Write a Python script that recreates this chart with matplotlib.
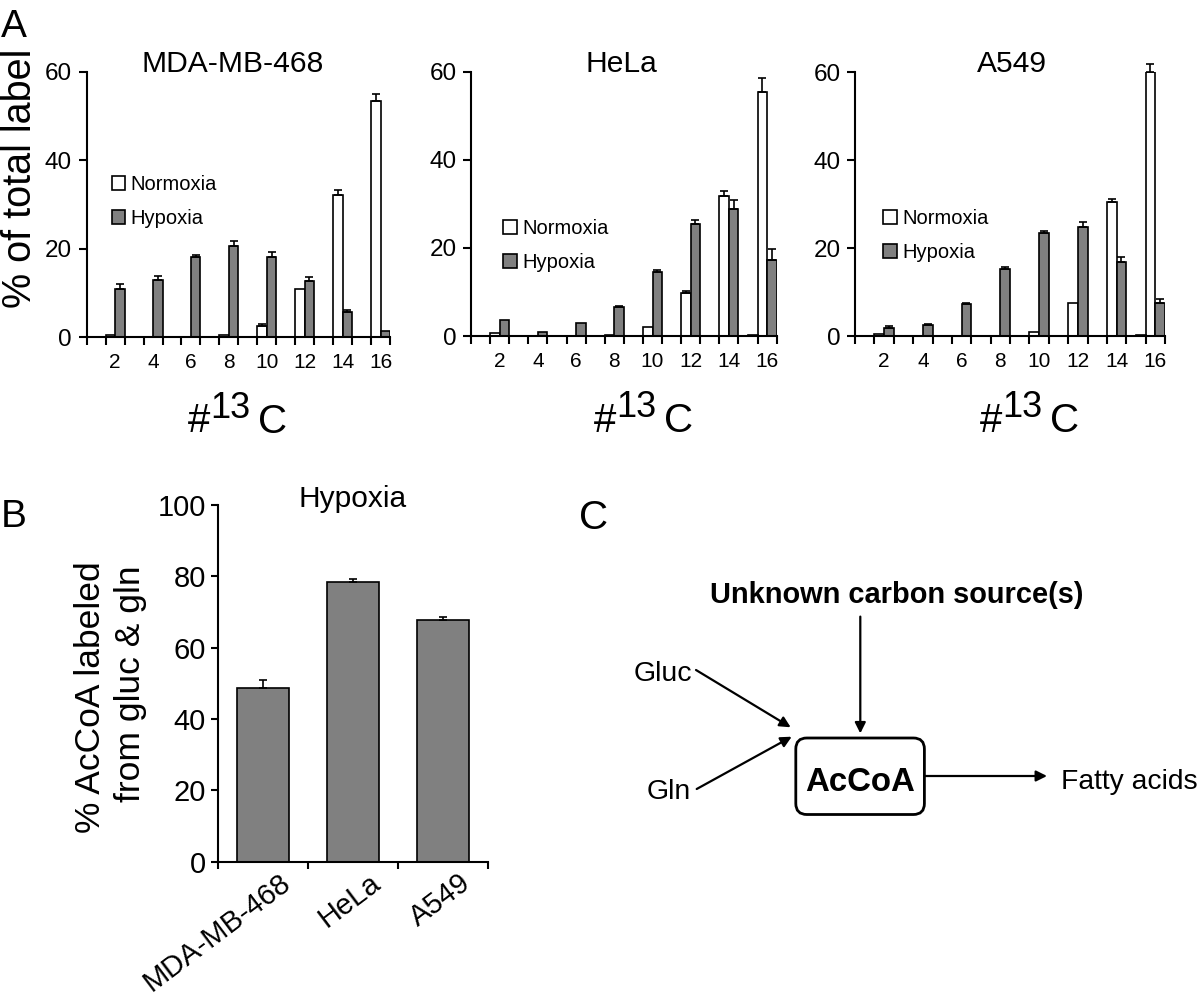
import numpy as np
import matplotlib
matplotlib.use('Agg')
import matplotlib.pyplot as plt
from matplotlib import font_manager as fm
from matplotlib.patches import FancyBboxPatch

avail = {f.name for f in fm.fontManager.ttflist}
BASE = 'Liberation Sans' if 'Liberation Sans' in avail else 'DejaVu Sans'
NARROW = 'Liberation Sans Narrow' if 'Liberation Sans Narrow' in avail else BASE
NSCALE = 1.0 if NARROW != BASE else 0.82
plt.rcParams['font.family'] = [BASE, 'DejaVu Sans']

# ---------------- data ----------------
n_carbons = list(range(1, 17))
tick_labels_A = ['2', '4', '6', '8', '10', '12', '14', '16']
cell_lines = ['MDA-MB-468', 'HeLa', 'A549']
series_labels = ['Normoxia', 'Hypoxia']

mda_norm = [0, 0.5, 0, 0, 0, 0, 0, 0.4, 0, 2.6, 0, 10.8, 0, 32.1, 0, 53.5]
mda_norm_err = [0, 0, 0, 0, 0, 0, 0, 0, 0, 0.4, 0, 0, 0, 1.1, 0, 1.5]
mda_hyp = [0, 10.9, 0, 13.0, 0, 18.1, 0, 20.6, 0, 18.1, 0, 12.6, 0, 5.6, 0, 1.3]
mda_hyp_err = [0, 1.1, 0, 0.9, 0, 0.4, 0, 1.1, 0, 1.1, 0, 1.0, 0, 0.6, 0, 0]

hela_norm = [0, 0.6, 0, 0, 0, 0, 0, 0.3, 0, 2.0, 0, 9.7, 0, 31.8, 0, 55.5]
hela_norm_err = [0, 0, 0, 0, 0, 0, 0, 0, 0, 0, 0, 0.5, 0, 1.2, 0, 3.0]
hela_hyp = [0, 3.6, 0, 0.9, 0, 2.9, 0, 6.6, 0, 14.6, 0, 25.4, 0, 28.8, 0.3, 17.3]
hela_hyp_err = [0, 0, 0, 0, 0, 0, 0, 0.3, 0, 0.4, 0, 0.9, 0, 2.1, 0, 2.4]

a549_norm = [0, 0.4, 0, 0, 0, 0, 0, 0, 0, 1.0, 0, 7.5, 0, 30.4, 0, 60.0]
a549_norm_err = [0, 0, 0, 0, 0, 0, 0, 0, 0, 0, 0, 0, 0, 0.7, 0, 2.0]
a549_hyp = [0, 1.9, 0, 2.4, 0, 7.2, 0, 15.2, 0, 23.4, 0, 24.9, 0, 16.8, 0.2, 7.6]
a549_hyp_err = [0, 0.3, 0, 0.4, 0, 0.2, 0, 0.4, 0, 0.4, 0, 1.1, 0, 1.2, 0, 0.8]

hyp_total = [48.8, 78.5, 67.8]
hyp_total_err = [2.0, 0.8, 0.8]

# ---------------- layout ----------------
W, H = 1200, 997
fig = plt.figure(figsize=(W / 100, H / 100), dpi=100)


def fx(px):
    return px / W


def fy(py):
    return 1 - py / H


def add_ax(l, r, t, b):
    return fig.add_axes([fx(l), fy(b), fx(r) - fx(l), fy(t) - fy(b)])


SPINE_LW = 1.5
EDGE_LW = 1.2
GRAY = '#808080'

panelA = [
    dict(box=(86.7, 390.0, 72.0, 337.0), norm=mda_norm, nerr=mda_norm_err,
         hyp=mda_hyp, herr=mda_hyp_err, leg=(0.082, 0.61), xl_dx=0, t_dx=-6),
    dict(box=(471.0, 776.7, 71.7, 336.0), norm=hela_norm, nerr=hela_norm_err,
         hyp=hela_hyp, herr=hela_hyp_err, leg=(0.106, 0.444), xl_dx=20.5, t_dx=-2),
    dict(box=(855.0, 1165.0, 72.3, 336.0), norm=a549_norm, nerr=a549_norm_err,
         hyp=a549_hyp, herr=a549_hyp_err, leg=(0.091, 0.4825), xl_dx=20.5, t_dx=2),
]

x_cat = np.array(n_carbons, dtype=float) - 0.5
even_pos = [x_cat[n - 1] for n in n_carbons if n % 2 == 0]


def err_bars(ax, x, y, e):
    x = np.asarray(x); y = np.asarray(y, float); e = np.asarray(e, float)
    m = e > 0
    ax.errorbar(x[m], y[m], yerr=[np.zeros(m.sum()), e[m]], fmt='none',
                ecolor='black', elinewidth=EDGE_LW, capsize=2.8,
                capthick=EDGE_LW, clip_on=False, zorder=3)


for name, p in zip(cell_lines, panelA):
    ax = add_ax(*p['box'])
    bn = ax.bar(x_cat - 0.25, p['norm'], width=0.5, color='white',
                edgecolor='black', linewidth=EDGE_LW, label=series_labels[0], zorder=2)
    bh = ax.bar(x_cat + 0.25, p['hyp'], width=0.5, color=GRAY,
                edgecolor='black', linewidth=EDGE_LW, label=series_labels[1], zorder=2)
    err_bars(ax, x_cat - 0.25, p['norm'], p['nerr'])
    err_bars(ax, x_cat + 0.25, p['hyp'], p['herr'])
    ax.set_xlim(0, 16)
    ax.set_ylim(0, 60)
    ax.set_yticks([0, 20, 40, 60])
    ax.set_xticks(np.arange(0, 17))
    ax.set_xticklabels([])
    ax.set_xticks(even_pos, labels=tick_labels_A, minor=True)
    ax.tick_params(which='major', direction='out', length=5.5, width=SPINE_LW,
                   labelsize=17.5, pad=5)
    ax.tick_params(axis='x', which='minor', length=0, pad=11.5, labelsize=15)
    for s in ['top', 'right']:
        ax.spines[s].set_visible(False)
    for s in ['left', 'bottom']:
        ax.spines[s].set_linewidth(SPINE_LW)
    ax.patch.set_visible(False)
    ax.legend(handles=[bn, bh], loc='upper left', bbox_to_anchor=p['leg'],
              frameon=False, fontsize=14.5, handlelength=0.68, handleheight=0.68,
              handletextpad=0.25, labelspacing=0.75, borderpad=0, borderaxespad=0)
    ax.annotate(name, xy=(0.5, 1), xycoords='axes fraction', xytext=(p['t_dx'], 0),
                textcoords='offset pixels', ha='center', va='baseline', fontsize=21.6)
    for s, ddx, ddy, fs in [('#', -39.4, -95.5, 29), ('13', -7.9, -81, 26),
                            ('C', 34.2, -96, 29)]:
        ax.annotate(s, xy=(0.5, 0), xycoords='axes fraction',
                    xytext=(ddx + p['xl_dx'], ddy), textcoords='offset pixels',
                    ha='center', va='baseline', fontsize=fs)

fig.text(fx(20.3), fy(178), '% of total label', rotation=90, ha='center',
         va='center', fontsize=28.5)

# ---------------- panel B ----------------
axb = add_ax(217.7, 487.7, 505.0, 861.7)
xb = np.arange(len(cell_lines)) + 0.5
axb.bar(xb, hyp_total, width=0.575, color=GRAY, edgecolor='black',
        linewidth=EDGE_LW, zorder=2)
err_bars(axb, xb, hyp_total, hyp_total_err)
axb.set_xlim(0, 3)
axb.set_ylim(0, 100)
axb.set_yticks([0, 20, 40, 60, 80, 100])
axb.set_xticks(np.arange(0, 4))
axb.set_xticklabels([])
axb.set_xticks(xb, minor=True)
axb.tick_params(which='major', direction='out', length=5, width=SPINE_LW,
                labelsize=21, pad=3.5)
axb.tick_params(axis='x', which='minor', length=0, labelbottom=False)
for s in ['top', 'right']:
    axb.spines[s].set_visible(False)
for s in ['left', 'bottom']:
    axb.spines[s].set_linewidth(SPINE_LW)
axb.patch.set_visible(False)
for xi, lab in zip(xb, cell_lines):
    axb.annotate(lab, xy=(xi, 0), xycoords=('data', 'axes fraction'),
                 xytext=(33, -7), textcoords='offset pixels', rotation=37,
                 ha='right', va='top', fontsize=21)
axb.annotate('Hypoxia', xy=(0.5, 1), xycoords='axes fraction', xytext=(0, -2),
             textcoords='offset pixels', ha='center', va='baseline', fontsize=21.5)
fig.text(fx(90), fy(697.5), '% AcCoA labeled', rotation=90, ha='center',
         va='center', fontsize=25.5)
fig.text(fx(130.6), fy(684), 'from gluc & gln', rotation=90, ha='center',
         va='center', fontsize=25.5)

# ---------------- panel labels ----------------
fig.text(fx(0.5), fy(36.7), 'A', ha='left', va='baseline', fontsize=28)
fig.text(fx(0.5), fy(527), 'B', ha='left', va='baseline', fontsize=28)
fig.text(fx(579), fy(529), 'C', ha='left', va='baseline', fontsize=29)

# ---------------- panel C (diagram) ----------------
axc = fig.add_axes([0, 0, 1, 1])
axc.set_xlim(0, W)
axc.set_ylim(H, 0)
axc.axis('off')
axc.patch.set_visible(False)

arrow_kw = dict(arrowstyle='-|>', lw=1.6, color='black', mutation_scale=16,
                shrinkA=0, shrinkB=0)
axc.text(896.7, 602.7, 'Unknown carbon source(s)', ha='center', va='baseline',
         fontsize=25.5 * NSCALE, fontweight='bold', family=[NARROW, BASE])
axc.annotate('', xy=(860.3, 733.4), xytext=(860.3, 616.6), arrowprops=arrow_kw)
box = FancyBboxPatch((795.8, 738.0), 128.6, 76.5,
                     boxstyle='round,pad=0,rounding_size=11',
                     lw=2.0, ec='black', fc='white')
axc.add_patch(box)
axc.text(860.5, 790.8, 'AcCoA', ha='center', va='baseline',
         fontsize=29 * NSCALE, fontweight='bold', family=[NARROW, BASE])
axc.annotate('', xy=(1047, 776), xytext=(924.4, 776), arrowprops=arrow_kw)
axc.text(1061, 788.8, 'Fatty acids', ha='left', va='baseline',
         fontsize=24.8 * NSCALE, family=[NARROW, BASE])
axc.text(633.3, 680.7, 'Gluc', ha='left', va='baseline', fontsize=20.5)
axc.text(646.7, 799.3, 'Gln', ha='left', va='baseline', fontsize=20.5)
axc.annotate('', xy=(790.7, 727.3), xytext=(696, 670), arrowprops=arrow_kw)
axc.annotate('', xy=(791.7, 736.7), xytext=(696.7, 789), arrowprops=arrow_kw)

fig.savefig('out.png', dpi=100)
